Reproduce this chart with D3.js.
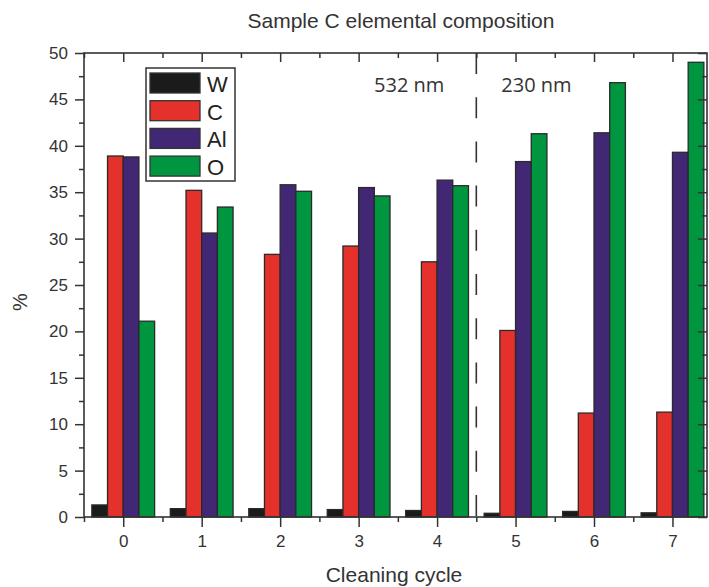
<!DOCTYPE html>
<html>
<head>
<meta charset="utf-8">
<script src="https://cdn.jsdelivr.net/npm/d3@7"></script>
<style>
  body { margin: 0; background: #fff; }
  svg { display: block; font-family: "Liberation Sans", Arial, sans-serif; }
</style>
</head>
<body>
<svg width="709" height="587"></svg>
<script>
// data
var cycles = [0, 1, 2, 3, 4, 5, 6, 7];
var elements = ['W', 'C', 'Al', 'O'];
var wValues  = [1.3, 0.9, 0.9, 0.8, 0.7, 0.4, 0.6, 0.45];
var cValues  = [38.9, 35.2, 28.3, 29.2, 27.5, 20.1, 11.2, 11.3];
var alValues = [38.8, 30.6, 35.8, 35.5, 36.3, 38.3, 41.4, 39.3];
var oValues  = [21.1, 33.4, 35.1, 34.6, 35.7, 41.3, 46.8, 49.0];
var yTicks = [0, 5, 10, 15, 20, 25, 30, 35, 40, 45, 50];

var colors = {'W': '#1b1b1b', 'C': '#e5312b', 'Al': '#412774', 'O': '#009640'};
var series = {'W': wValues, 'C': cValues, 'Al': alValues, 'O': oValues};

var svg = d3.select('svg');
// note: "top" clashes with window.top, so plot edges get their own names
var plotL = 84, plotR = 707, plotT = 53, plotB = 517;

// linear x so the half-step minor ticks fall where they should
var x = d3.scaleLinear().domain([-0.5, 7.44]).range([plotL, plotR]);
var y = d3.scaleLinear().domain([0, 50]).range([plotB, plotT]);
var step = x(1) - x(0);
var barW = step * 0.8 / elements.length;

var minorX = d3.range(-0.5, 7.5, 0.5).filter(function(d) { return d % 1 !== 0; });
var minorY = d3.range(2.5, 50, 5);

////////////////////// BARS //////////////////////
elements.forEach(function(el, k) {
    svg.append('g').selectAll('rect')
        .data(series[el]).enter().append('rect')
        .attr('x', function(d, i) { return x(cycles[i]) - step * 0.4 + k * barW; })
        .attr('y', function(d) { return y(d); })
        .attr('width', barW)
        .attr('height', function(d) { return y(0) - y(d); })
        .attr('fill', colors[el])
        .attr('stroke', '#2a2a2a')
        .attr('stroke-width', 1.3);
});

////////////////////// AXES //////////////////////
var tickColor = '#333';

function styleAxis(g) {
    g.selectAll('line').attr('stroke', tickColor).attr('stroke-width', 1.5);
    g.select('.domain').remove();
    g.selectAll('text').attr('fill', '#333').attr('font-size', 17);
}

// bottom
svg.append('g').attr('transform', 'translate(0,' + plotB + ')')
    .call(d3.axisBottom(x).tickValues(cycles).tickFormat(d3.format('d')).tickSize(10).tickPadding(8))
    .call(styleAxis);
svg.append('g').attr('transform', 'translate(0,' + plotB + ')')
    .call(d3.axisBottom(x).tickValues(minorX).tickFormat('').tickSize(5))
    .call(styleAxis);
// top (inward)
svg.append('g').attr('transform', 'translate(0,' + plotT + ')')
    .call(d3.axisTop(x).tickValues(cycles).tickFormat('').tickSize(-9))
    .call(styleAxis);
svg.append('g').attr('transform', 'translate(0,' + plotT + ')')
    .call(d3.axisTop(x).tickValues(minorX).tickFormat('').tickSize(-5))
    .call(styleAxis);
// left
svg.append('g').attr('transform', 'translate(' + plotL + ',0)')
    .call(d3.axisLeft(y).tickValues(yTicks).tickSize(9).tickPadding(7))
    .call(styleAxis);
svg.append('g').attr('transform', 'translate(' + plotL + ',0)')
    .call(d3.axisLeft(y).tickValues(minorY).tickFormat('').tickSize(5))
    .call(styleAxis);
// right (inward)
svg.append('g').attr('transform', 'translate(' + plotR + ',0)')
    .call(d3.axisRight(y).tickValues(yTicks).tickFormat('').tickSize(-9))
    .call(styleAxis);
svg.append('g').attr('transform', 'translate(' + plotR + ',0)')
    .call(d3.axisRight(y).tickValues(minorY).tickFormat('').tickSize(-5))
    .call(styleAxis);

// frame
svg.append('rect')
    .attr('x', plotL).attr('y', plotT)
    .attr('width', plotR - plotL).attr('height', plotB - plotT)
    .attr('fill', 'none').attr('stroke', tickColor).attr('stroke-width', 1.6);

////////////////////// DASHED DIVIDER + LABELS //////////////////////
svg.append('line')
    .attr('x1', x(4.5)).attr('x2', x(4.5))
    .attr('y1', y(50)).attr('y2', y(0))
    .attr('stroke', '#333').attr('stroke-width', 1.6)
    .attr('stroke-dasharray', '21,23.2');

svg.append('text').attr('x', x(4.5) - 32).attr('y', 92)
    .attr('text-anchor', 'end').attr('font-size', 20)
    .attr('font-family', '"Open Sans", sans-serif').attr('fill', '#333')
    .text('532 nm');
svg.append('text').attr('x', x(4.5) + 25).attr('y', 92)
    .attr('text-anchor', 'start').attr('font-size', 20)
    .attr('font-family', '"Open Sans", sans-serif').attr('fill', '#333')
    .text('230 nm');

////////////////////// LEGEND //////////////////////
var legend = svg.append('g').attr('transform', 'translate(146,68)');
legend.append('rect')
    .attr('width', 89).attr('height', 113)
    .attr('fill', '#fff').attr('stroke', '#333').attr('stroke-width', 1.5);
elements.forEach(function(el, k) {
    legend.append('rect')
        .attr('x', 4).attr('y', 5 + k * 27.7)
        .attr('width', 50).attr('height', 20)
        .attr('fill', colors[el]).attr('stroke', '#333').attr('stroke-width', 1.3);
    legend.append('text')
        .attr('x', 61).attr('y', 24 + k * 27.5)
        .attr('font-size', 22).attr('fill', '#222')
        .text(el);
});

////////////////////// TITLES //////////////////////
svg.append('text').attr('x', 401).attr('y', 28)
    .attr('text-anchor', 'middle').attr('font-size', 21).attr('fill', '#333')
    .text('Sample C elemental composition');
svg.append('text').attr('x', 394).attr('y', 582)
    .attr('text-anchor', 'middle').attr('font-size', 21).attr('fill', '#333')
    .text('Cleaning cycle');
svg.append('text')
    .attr('transform', 'translate(27,' + 302 + ') rotate(-90)')
    .attr('text-anchor', 'middle').attr('font-size', 20).attr('fill', '#333')
    .text('%');
</script>
</body>
</html>
